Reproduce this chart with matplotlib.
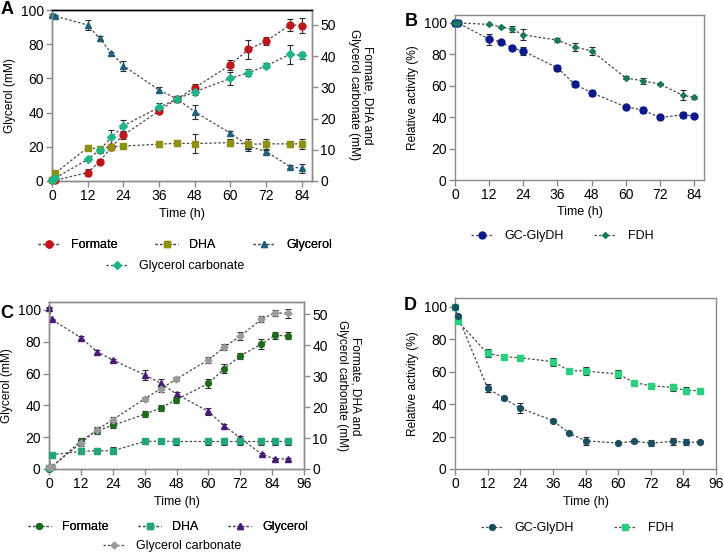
import numpy as np
import matplotlib
matplotlib.use('Agg')
import matplotlib.pyplot as plt
from matplotlib.lines import Line2D

plt.rcParams['font.family'] = ['Liberation Sans', 'DejaVu Sans']
plt.rcParams['font.size'] = 9

# ---- panel A data ----
tA = [0, 1, 12, 16, 20, 24, 36, 42, 48, 60, 66, 72, 80, 84]
glyA = [97.1, 96.5, 91.2, 83.4, 74.7, 67.4, 53.2, 48.0, 40.5, 27.9, 20.5, 17.2, 8.4, 7.4]
glyA_err = [0.5, 0.5, 3.0, 1.5, 1.0, 3.0, 1.5, 1.0, 4.0, 1.5, 3.0, 1.0, 1.0, 2.5]
forA = [0.2, 0.2, 2.7, 6.2, 11.0, 14.7, 22.5, 26.3, 29.9, 37.2, 42.2, 44.8, 50.0, 49.8]
forA_err = [0.2, 0.2, 1.0, 0.8, 1.0, 1.2, 0.8, 0.8, 1.2, 1.5, 3.0, 1.2, 2.0, 2.5]
dhaA = [0.3, 2.5, 10.7, 10.3, 11.0, 11.2, 11.8, 12.1, 12.0, 12.3, 11.8, 11.9, 11.9, 11.9]
dhaA_err = [0.2, 0.5, 0.8, 1.0, 1.0, 0.5, 0.8, 1.0, 3.0, 1.0, 1.5, 1.5, 1.0, 1.5]
gcA = [0.2, 0.9, 6.9, 9.9, 14.0, 17.7, 23.6, 26.3, 28.6, 32.9, 34.7, 36.9, 40.6, 40.3]
gcA_err = [0.2, 0.3, 0.6, 0.8, 2.5, 2.0, 1.5, 0.8, 1.0, 2.0, 1.2, 0.8, 3.0, 1.2]

# ---- panel B data ----
tB = [0, 1, 12, 16, 20, 24, 36, 42, 48, 60, 66, 72, 80, 84]
gdhB = [100, 100, 89.6, 87.9, 84.1, 82.0, 71.4, 61.0, 55.5, 46.6, 44.5, 39.8, 41.5, 40.7]
gdhB_err = [2.0, 1.5, 3.5, 0.8, 1.0, 2.5, 2.0, 2.0, 2.0, 1.0, 2.0, 0.8, 2.0, 1.0]
fdhB = [100, 100, 99.0, 97.5, 96.0, 92.4, 89.0, 84.7, 82.2, 65.0, 63.1, 61.0, 54.0, 52.5]
fdhB_err = [0.5, 0.5, 0.5, 0.8, 2.0, 3.5, 1.5, 2.5, 2.5, 1.0, 2.0, 0.8, 3.0, 1.0]

# ---- panel C data ----
tC = [0, 1, 12, 18, 24, 36, 42, 48, 60, 66, 72, 80, 85, 90]
glyC = [101.5, 94.1, 82.6, 73.8, 68.6, 59.2, 54.0, 47.1, 36.2, 27.2, 19.5, 9.4, 6.3, 6.3]
glyC_err = [0.5, 0.5, 0.8, 0.8, 0.8, 3.0, 2.5, 1.0, 2.0, 1.0, 1.0, 0.8, 0.8, 0.8]
forC = [0.1, 0.6, 9.1, 12.4, 14.1, 17.7, 19.7, 22.4, 27.7, 32.4, 36.6, 40.4, 43.2, 43.1]
forC_err = [0.3, 0.3, 1.0, 1.0, 1.0, 1.0, 1.0, 1.0, 1.5, 1.5, 1.0, 1.5, 1.2, 1.2]
dhaC = [0.3, 4.6, 5.7, 5.9, 5.9, 8.9, 9.0, 8.9, 8.9, 8.9, 8.9, 8.9, 8.9, 8.9]
dhaC_err = [0.3, 0.5, 1.0, 1.0, 1.2, 0.8, 0.8, 1.0, 1.0, 1.0, 1.0, 1.0, 1.0, 1.0]
gcC = [0.5, 0.8, 8.4, 12.7, 15.9, 22.7, 25.9, 29.1, 35.3, 39.4, 43.0, 48.4, 50.5, 50.3]
gcC_err = [0.3, 0.3, 1.0, 1.0, 1.0, 0.6, 1.0, 0.6, 1.0, 1.0, 1.2, 1.0, 1.0, 1.5]

# ---- panel D data ----
tD = [0, 1, 12, 18, 24, 36, 42, 48, 60, 66, 72, 80, 85, 90]
gdhD = [100, 94.5, 49.8, 43.6, 37.5, 29.9, 22.1, 17.4, 16.0, 17.2, 16.0, 17.0, 16.6, 16.6]
gdhD_err = [0.5, 0.5, 2.5, 0.8, 3.0, 0.8, 0.8, 2.5, 0.8, 1.0, 2.0, 2.0, 2.0, 0.8]
fdhD = [100, 91.2, 71.3, 69.3, 68.6, 66.2, 60.7, 60.5, 58.6, 53.3, 51.4, 50.4, 48.4, 48.4]
fdhD_err = [0.5, 1.0, 2.5, 0.8, 1.5, 2.5, 1.0, 2.5, 2.5, 0.8, 0.8, 2.0, 2.0, 0.8]

W, H = 724, 554
fig = plt.figure(figsize=(W / 100, H / 100), dpi=100)

TICK_FS = 10
XLAB_FS = 9
YLAB_FS = 8.6
LEG_FS = 9


def box(l, t, r, b):
    return [l / W, 1 - b / H, (r - l) / W, (b - t) / H]


LS = (0, (2, 1.6))
LC = '#4a4a4a'
SP = '#8a8a8a'


def series(ax, t, y, e, color, marker, ms):
    ax.errorbar(t, y, yerr=e, fmt=marker, color=color, mfc=color, mec=color, ms=ms,
                ecolor='#2a2a2a', elinewidth=0.8, capsize=2.5, capthick=0.8,
                ls='none', clip_on=False, zorder=3)
    ax.plot(t, y, ls=LS, color=LC, lw=0.9, zorder=2, clip_on=False)


def style(ax, top_black=False):
    for s in ax.spines.values():
        s.set_color(SP)
        s.set_linewidth(1.0)
    if top_black:
        ax.spines['top'].set_color('black')
    ax.tick_params(direction='out', length=4, width=1, color=SP, labelsize=TICK_FS, pad=2)


def handle(color, marker, ms):
    return Line2D([], [], ls=LS, color=LC, lw=0.9, marker=marker, mfc=color, mec=color, ms=ms)


# ---------------- A ----------------
axA = fig.add_axes(box(52, 10, 312, 181))
axA2 = axA.twinx()
series(axA, tA, glyA, glyA_err, '#1d6079', '^', 4.5)
series(axA2, tA, forA, forA_err, '#c0161c', 'o', 5)
series(axA2, tA, dhaA, dhaA_err, '#8f8f12', 's', 5)
series(axA2, tA, gcA, gcA_err, '#1db58a', 'D', 4.5)
axA.set_xlim(0, 87.4)
axA.set_ylim(0, 100)
axA2.set_ylim(0, 54.8)
axA.set_xticks(np.arange(0, 85, 12))
axA.set_yticks(np.arange(0, 101, 20))
axA2.set_yticks(np.arange(0, 51, 10))
style(axA, top_black=True)
style(axA2, top_black=True)
axA.set_xlabel('Time (h)', fontsize=XLAB_FS, labelpad=3)
axA.set_ylabel('Glycerol (mM)', fontsize=YLAB_FS, labelpad=3)
fig.text(361 / W, 1 - 95 / H, 'Formate, DHA and\nGlycerol carbonate (mM)', rotation=270,
         ha='center', va='center', multialignment='center', fontsize=YLAB_FS)
fig.text(1 / W, 1 - 10 / H, 'A', fontsize=13, fontweight='bold', va='center')

legA1 = fig.legend([handle('#c0161c', 'o', 5), handle('#8f8f12', 's', 5), handle('#1d6079', '^', 4.5)],
                   ['Formate', 'DHA', 'Glycerol'], ncol=3, loc='center',
                   bbox_to_anchor=(185 / W, 1 - 245 / H), frameon=False, fontsize=LEG_FS,
                   handlelength=1.8, handletextpad=0.9, columnspacing=3.0)
fig.legend([handle('#1db58a', 'D', 4.5)], ['Glycerol carbonate'], loc='center',
           bbox_to_anchor=(175 / W, 1 - 266 / H), frameon=False, fontsize=LEG_FS,
           handlelength=1.8, handletextpad=0.9)
fig.add_artist(legA1)

# ---------------- B ----------------
axB = fig.add_axes(box(455, 15, 704, 180))
series(axB, tB, gdhB, gdhB_err, '#0d1a8c', 'o', 5)
series(axB, tB, fdhB, fdhB_err, '#1a7a5a', 'D', 3)
axB.set_xlim(0, 87.5)
axB.set_ylim(0, 105)
axB.set_xticks(np.arange(0, 85, 12))
axB.set_yticks(np.arange(0, 101, 20))
style(axB)
axB.set_xlabel('Time (h)', fontsize=XLAB_FS, labelpad=3)
axB.set_ylabel('Relative activity (%)', fontsize=YLAB_FS, labelpad=3)
fig.text(405 / W, 1 - 22 / H, 'B', fontsize=13, fontweight='bold', va='center')
fig.legend([handle('#0d1a8c', 'o', 5), handle('#1a7a5a', 'D', 3)], ['GC-GlyDH', 'FDH'], ncol=2,
           loc='center', bbox_to_anchor=(562 / W, 1 - 236 / H), frameon=False, fontsize=LEG_FS,
           handlelength=1.8, handletextpad=0.9, columnspacing=2.4)

# ---------------- C ----------------
axC = fig.add_axes(box(49, 302, 304, 469))
axC2 = axC.twinx()
series(axC, tC, glyC, glyC_err, '#4a1a7a', '^', 4.5)
series(axC2, tC, forC, forC_err, '#1e6b1e', 'o', 4.2)
series(axC2, tC, dhaC, dhaC_err, '#25a57e', 's', 5)
series(axC2, tC, gcC, gcC_err, '#9a9a9a', 'D', 3.5)
axC.set_xlim(0, 96)
axC.set_ylim(0, 105)
axC2.set_ylim(0, 54)
axC.set_xticks(np.arange(0, 97, 12))
axC.set_yticks(np.arange(0, 101, 20))
axC2.set_yticks(np.arange(0, 51, 10))
style(axC)
style(axC2)
axC.set_xlabel('Time (h)', fontsize=XLAB_FS, labelpad=3)
axC.set_ylabel('Glycerol (mM)', fontsize=YLAB_FS, labelpad=3)
fig.text(349 / W, 1 - 386 / H, 'Formate, DHA and\nGlycerol carbonate (mM)', rotation=270,
         ha='center', va='center', multialignment='center', fontsize=YLAB_FS)
fig.text(0 / W, 1 - 313 / H, 'C', fontsize=13, fontweight='bold', va='center')

legC1 = fig.legend([handle('#1e6b1e', 'o', 4.2), handle('#25a57e', 's', 5), handle('#4a1a7a', '^', 4.5)],
                   ['Formate', 'DHA', 'Glycerol'], ncol=3, loc='center',
                   bbox_to_anchor=(168 / W, 1 - 527 / H), frameon=False, fontsize=LEG_FS,
                   handlelength=1.8, handletextpad=0.9, columnspacing=2.4)
fig.legend([handle('#9a9a9a', 'D', 3.5)], ['Glycerol carbonate'], loc='center',
           bbox_to_anchor=(172 / W, 1 - 546 / H), frameon=False, fontsize=LEG_FS,
           handlelength=1.8, handletextpad=0.9)
fig.add_artist(legC1)

# ---------------- D ----------------
axD = fig.add_axes(box(455, 298, 716, 469))
series(axD, tD, fdhD, fdhD_err, '#2bd07f', 's', 5)
series(axD, tD, gdhD, gdhD_err, '#1a4e60', 'o', 4.2)
axD.set_xlim(0, 96)
axD.set_ylim(0, 105.5)
axD.set_xticks(np.arange(0, 97, 12))
axD.set_yticks(np.arange(0, 101, 20))
style(axD)
axD.set_xlabel('Time (h)', fontsize=XLAB_FS, labelpad=3)
axD.set_ylabel('Relative activity (%)', fontsize=YLAB_FS, labelpad=3)
fig.text(404 / W, 1 - 306 / H, 'D', fontsize=13, fontweight='bold', va='center')
fig.legend([handle('#1a4e60', 'o', 4.2), handle('#2bd07f', 's', 5)], ['GC-GlyDH', 'FDH'], ncol=2,
           loc='center', bbox_to_anchor=(577 / W, 1 - 528 / H), frameon=False, fontsize=LEG_FS,
           handlelength=1.8, handletextpad=0.9, columnspacing=3.2)

fig.savefig('out.png', dpi=100)
